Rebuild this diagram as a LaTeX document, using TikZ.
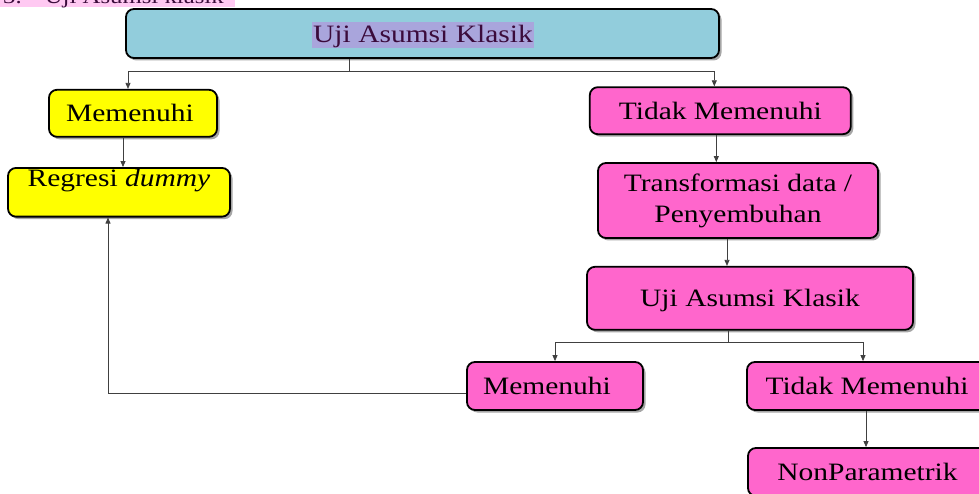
\documentclass[tikz,border=0pt]{standalone}
\usepackage{fontspec}
\setmainfont{Liberation Serif}[FakeStretch=1.18]
\usetikzlibrary{arrows.meta,shadows,calc}
\definecolor{boxblue}{HTML}{92CDDC}
\definecolor{boxyellow}{HTML}{FFFF00}
\definecolor{boxpink}{HTML}{FF66CC}
\definecolor{hlpurple}{HTML}{A9A5DC}
\definecolor{txtpurple}{HTML}{3B0B3B}
\definecolor{hdrpink}{HTML}{FFC9F2}
\definecolor{lncol}{HTML}{404040}
\begin{document}
\begin{tikzpicture}[x=1pt,y=-1pt,
  box/.style={draw=black, line width=1.8pt, rounded corners=8pt, inner sep=0pt,
    font=\fontsize{25}{31}\selectfont,
    drop shadow={shadow xshift=2.5pt,shadow yshift=-2.5pt,opacity=0.35,fill=black}},
  sline/.style={text height=17pt, text depth=0pt},
  ybox/.style={box, fill=boxyellow},
  pbox/.style={box, fill=boxpink},
  conn/.style={draw=lncol, line width=0.8pt},
  arr/.style={conn, -{Triangle[length=6pt,width=5pt]}}
]
\useasboundingbox (0,0) rectangle (979,494);
% header (cut off at top, as in the reference)
\fill[hdrpink] (0,-20) rectangle (235,7);
\node[anchor=base west, inner sep=0pt, text=txtpurple, font=\fontsize{21}{25}\selectfont] (hdr) at (3,4) {3.\hspace{23pt}Uji Asumsi klasik};
% boxes
\node[box, fill=boxblue, minimum width=593pt, minimum height=49pt] (top) at (422.5,33.5) {};
\node[anchor=base, fill=hlpurple, text=txtpurple, inner xsep=1pt, inner ysep=1.5pt,
      text height=19pt, text depth=4pt, font=\fontsize{25}{31}\selectfont] (toptxt) at (423,42.7) {Uji Asumsi Klasik};
\node[ybox, sline, minimum width=168pt, minimum height=47pt] (mem1) at (133,113.3) {Memenuhi\hspace*{6pt}};
\node[ybox, text height=17pt, text depth=28pt, minimum width=222pt, minimum height=48.7pt] (reg) at (119,192.3) {Regresi \textit{dummy}};
\node[pbox, sline, minimum width=261pt, minimum height=47pt] (tid1) at (720.3,110.7) {Tidak Memenuhi};
\node[pbox, align=center, minimum width=280pt, minimum height=75pt] (trans) at (738,200.5) {Transformasi data /\\Penyembuhan};
\node[pbox, sline, minimum width=326pt, minimum height=63pt] (uji2) at (750,298.3) {Uji Asumsi Klasik};
\node[pbox, sline, minimum width=176pt, minimum height=48pt] (mem2) at (555,386) {Memenuhi\hspace*{16pt}};
\node[pbox, sline, minimum width=240pt, minimum height=48pt] (tid2) at (867,386) {Tidak Memenuhi};
\node[pbox, sline, minimum width=239pt, minimum height=48pt] (np) at (867.5,472) {NonParametrik};
% connectors
\coordinate (j1) at (349,71);
\draw[conn] (j1 |- top.south) -- (j1);
\draw[arr] (j1) -| ([xshift=-5pt]mem1.north);
\draw[arr] (j1) -| ([xshift=-6pt]tid1.north);
\draw[arr] ([xshift=-10pt]mem1.south) -- ([xshift=-10pt]mem1.south |- reg.north);
\draw[arr] ([xshift=-4pt]tid1.south) -- ([xshift=-4pt]tid1.south |- trans.north);
\draw[arr] ([xshift=-11pt]trans.south) -- ([xshift=-11pt]trans.south |- uji2.north);
\coordinate (j2) at (728,342);
\draw[conn] (j2 |- uji2.south) -- (j2);
\draw[arr] (j2) -| (mem2.north);
\draw[arr] (j2) -| ([xshift=-4pt]tid2.north);
\draw[arr] ([yshift=-7pt]mem2.west) -| ([xshift=-11pt]reg.south);
\draw[arr] ([xshift=-1pt]tid2.south) -- ([xshift=-1pt]tid2.south |- np.north);
\end{tikzpicture}
\end{document}
